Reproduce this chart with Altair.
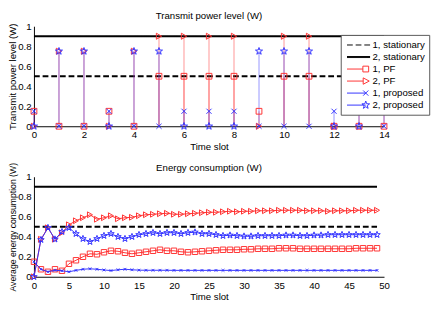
import math
import altair as alt
import pandas as pd

# ---------------- data ----------------
series_names = ["1, stationary", "2, stationary", "1, PF", "2, PF", "1, proposed", "2, proposed"]
stationary_names = ["1, stationary", "2, stationary"]
stationary_levels = [0.5, 0.9]

# top panel: transmit power level per time slot
slots = list(range(15))
power_pf1 = [0.15, 0, 0, 0.15, 0, 0.5, 0.5, 0.5, 0.5, 0.15, 0.5, 0.5, 0, 0, 0]
power_pf2 = [0, 0.75, 0.75, 0, 0.75, 0.9, 0.9, 0.9, 0.9, 0, 0.9, 0.9, 0, 0.75, 0.75]
power_prop1 = [0.15, 0, 0, 0.15, 0, 0, 0.15, 0.15, 0.15, 0, 0, 0, 0.15, 0.15, 0]
power_prop2 = [0, 0.75, 0.75, 0, 0.75, 0.75, 0, 0, 0, 0.75, 0.75, 0.75, 0, 0, 0.75]

# bottom panel: average energy consumption
avg_slots = list(range(50))
avg_pf1 = [0.15, 0.075, 0.05, 0.075, 0.06, 0.13, 0.165, 0.2, 0.23, 0.225,
           0.245, 0.26, 0.255, 0.24, 0.23, 0.24, 0.25, 0.26, 0.27, 0.26,
           0.26, 0.25, 0.245, 0.25, 0.255, 0.26, 0.265, 0.27, 0.27, 0.27,
           0.275, 0.275, 0.28, 0.28, 0.28, 0.285, 0.285, 0.285, 0.28, 0.28,
           0.28, 0.28, 0.28, 0.28, 0.28, 0.28, 0.285, 0.285, 0.285, 0.285]
avg_pf2 = [0.0, 0.375, 0.49, 0.375, 0.44, 0.52, 0.56, 0.59, 0.62, 0.575,
           0.59, 0.61, 0.58, 0.59, 0.595, 0.61, 0.62, 0.625, 0.63, 0.635,
           0.625, 0.625, 0.63, 0.635, 0.64, 0.645, 0.645, 0.65, 0.655, 0.65,
           0.655, 0.655, 0.66, 0.66, 0.66, 0.665, 0.665, 0.665, 0.665, 0.66,
           0.66, 0.66, 0.655, 0.66, 0.66, 0.66, 0.665, 0.665, 0.665, 0.665]
avg_prop1 = [0.15, 0.075, 0.05, 0.065, 0.06, 0.05, 0.064, 0.075, 0.08, 0.075,
             0.068, 0.062, 0.07, 0.075, 0.07, 0.066, 0.065, 0.065, 0.065, 0.065,
             0.064, 0.064, 0.064, 0.064, 0.064, 0.064, 0.064, 0.064, 0.064, 0.064,
             0.064, 0.064, 0.064, 0.064, 0.064, 0.064, 0.064, 0.064, 0.064, 0.064,
             0.064, 0.064, 0.064, 0.064, 0.064, 0.064, 0.064, 0.064, 0.064, 0.064]
avg_prop2 = [0.0, 0.37, 0.49, 0.375, 0.45, 0.49, 0.43, 0.38, 0.35, 0.38,
             0.41, 0.43, 0.40, 0.38, 0.40, 0.42, 0.43, 0.44, 0.43, 0.44,
             0.44, 0.43, 0.44, 0.445, 0.43, 0.43, 0.42, 0.41, 0.415, 0.41,
             0.405, 0.405, 0.41, 0.41, 0.41, 0.41, 0.415, 0.415, 0.41, 0.41,
             0.415, 0.415, 0.42, 0.42, 0.42, 0.42, 0.42, 0.42, 0.42, 0.42]

# ---------------- styles ----------------
RED = "#ff3030"
BLUE = "#3030ff"
FONT = "Liberation Sans"


def star(cx, cy, R):
    pts = []
    for k in range(10):
        r = R if k % 2 == 0 else R * 0.4
        a = math.radians(-90 + 36 * k)
        pts.append((cx + r * math.cos(a), cy + r * math.sin(a)))
    return "M" + "L".join(f"{x:.3f},{y:.3f}" for x, y in pts) + "Z"


def xmark(cx, h):
    return f"M{cx-h:.3f},{-h:.3f}L{cx+h:.3f},{h:.3f}M{cx-h:.3f},{h:.3f}L{cx+h:.3f},{-h:.3f}"


def square(cx, h):
    return f"M{cx-h:.3f},{-h:.3f}L{cx+h:.3f},{-h:.3f}L{cx+h:.3f},{h:.3f}L{cx-h:.3f},{h:.3f}Z"


def tri(cx, h):
    return f"M{cx-h*0.9:.3f},{-h:.3f}L{cx+h:.3f},0L{cx-h*0.9:.3f},{h:.3f}Z"


LINE = "M-2,0L2,0"
DASH = "M-2,0L-1,0M-0.5,0L0.5,0M1,0L2,0"
THICK = "M-2,-0.09L2,-0.09M-2,0.09L2,0.09"

legend_paths_top = [
    DASH, THICK,
    "M-2,0L0.75,0" + square(1.25, 0.5),
    "M-2,0L0.8,0" + tri(1.3, 0.55),
    "M-2,0L1.25,0" + xmark(1.25, 0.45),
    "M-2,0L1.25,0" + star(1.25, 0, 0.7),
]
legend_paths_bottom = [
    DASH, THICK,
    LINE + square(0, 0.5),
    LINE + tri(0, 0.55),
    LINE + xmark(0, 0.22),
    LINE + star(0, 0, 0.7),
]
legend_colors = ["black", "black", RED, RED, BLUE, BLUE]

marker_shape = {"1, PF": "square", "2, PF": "triangle-right",
                "1, proposed": "M-1,-1L1,1M-1,1L1,-1", "2, proposed": star(0, 0, 1)}
series_color = {"1, PF": RED, "2, PF": RED, "1, proposed": BLUE, "2, proposed": BLUE}


def long_table(t, cols):
    rows = []
    for name, vals in cols.items():
        for ti, v in zip(t, vals):
            rows.append({"t": ti, "value": v, "series": name})
    return pd.DataFrame(rows)


def stationary_table(t):
    rows = []
    for name, lvl in zip(stationary_names, stationary_levels):
        rows.append({"t": t[0], "value": lvl, "series": name})
        rows.append({"t": t[-1], "value": lvl, "series": name})
    return pd.DataFrame(rows)


def axes(xmax, xstep, ytitle, ytitle_size):
    x = alt.X("t:Q", title="Time slot",
              scale=alt.Scale(domain=[0, xmax], nice=False, zero=False),
              axis=alt.Axis(values=list(range(0, xmax + 1, xstep)), format="d",
                            labelFlush=False, labelPadding=4, titlePadding=2))
    y = alt.Y("value:Q", title=ytitle,
              scale=alt.Scale(domain=[0, 1], nice=False),
              axis=alt.Axis(values=[0, 0.2, 0.4, 0.6, 0.8, 1], format=".1~f",
                            labelPadding=3, titlePadding=0, titleFontSize=ytitle_size))
    return x, y


def legend_layer(paths, ly):
    leg = alt.Legend(title=None, orient="none", legendX=319, legendY=ly, padding=4,
                     fillColor="white", strokeColor="#555555", symbolSize=144,
                     symbolStrokeWidth=1, symbolOffset=8, labelOffset=8,
                     labelFontSize=10, labelFont=FONT, labelColor="black", rowPadding=0.5)
    return alt.Chart(pd.DataFrame({"series": series_names})).mark_point(
        filled=False, opacity=1, strokeWidth=1
    ).encode(
        color=alt.Color("series:N", scale=alt.Scale(domain=series_names, range=legend_colors), legend=leg),
        shape=alt.Shape("series:N", scale=alt.Scale(domain=series_names, range=paths), legend=leg),
    ).transform_filter("false")


def stationary_layer(t, x, y):
    return alt.Chart(stationary_table(t)).mark_line(color="black", strokeWidth=2).encode(
        x=x, y=y, detail="series:N",
        strokeDash=alt.StrokeDash("series:N", scale=alt.Scale(domain=stationary_names, range=[[6, 3], [1, 0]]), legend=None),
    )


# ---------------- top panel ----------------
top_df = long_table(slots, {"1, PF": power_pf1, "2, PF": power_pf2,
                            "1, proposed": power_prop1, "2, proposed": power_prop2})
xt, yt = axes(14, 2, "Transmit power level (W)", 10)
top_layers = [stationary_layer(slots, xt, yt)]
for name in ["1, PF", "2, PF", "1, proposed", "2, proposed"]:
    top_layers.append(
        alt.Chart(top_df).transform_filter(alt.datum.series == name)
        .mark_rule(color=series_color[name], opacity=0.35, strokeWidth=1.5)
        .encode(x=xt, y=yt, y2=alt.datum(0))
    )
top_sizes = {"1, PF": 36, "2, PF": 40, "1, proposed": 28, "2, proposed": 60}
for name in ["1, PF", "2, PF", "1, proposed", "2, proposed"]:
    top_layers.append(
        alt.Chart(top_df).transform_filter(alt.datum.series == name)
        .mark_point(shape=marker_shape[name], filled=False, color=series_color[name],
                    size=top_sizes[name], strokeWidth=1, opacity=1)
        .encode(x=xt, y=yt)
    )
top_layers.append(legend_layer(legend_paths_top, 9))
top = alt.layer(*top_layers).properties(
    width=364, height=104,
    title=alt.TitleParams("Transmit power level (W)", offset=0.5))

# ---------------- bottom panel ----------------
bot_df = long_table(avg_slots, {"1, PF": avg_pf1, "2, PF": avg_pf2,
                                "1, proposed": avg_prop1, "2, proposed": avg_prop2})
xb, yb = axes(50, 5, "Average energy consumption (W)", 9)
bot_layers = [stationary_layer(avg_slots, xb, yb)]
bot_sizes = {"1, PF": 32, "2, PF": 36, "1, proposed": 8, "2, proposed": 50}
for name in ["1, PF", "2, PF", "1, proposed", "2, proposed"]:
    base = alt.Chart(bot_df).transform_filter(alt.datum.series == name)
    bot_layers.append(base.mark_line(color=series_color[name], strokeWidth=1).encode(x=xb, y=yb))
    bot_layers.append(
        base.mark_point(shape=marker_shape[name], filled=False, color=series_color[name],
                        size=bot_sizes[name], strokeWidth=1, opacity=1).encode(x=xb, y=yb)
    )
bot_layers.append(legend_layer(legend_paths_bottom, 6))
bottom = alt.layer(*bot_layers).properties(
    width=364, height=104,
    title=alt.TitleParams("Energy consumption (W)", offset=-11))

chart = alt.vconcat(top, bottom, spacing=11.5).properties(
    padding={"left": 0, "top": -3, "right": 5, "bottom": 0}
).configure(font=FONT).configure_view(stroke=None).configure_axis(
    grid=False, ticks=False, domainColor="black", domainWidth=1,
    labelColor="black", titleColor="black", labelFontSize=10, titleFontSize=10,
    titleFontWeight="normal", labelFont=FONT, titleFont=FONT
).configure_title(fontSize=10, fontWeight="normal", color="black", font=FONT)

chart.save("out.html", embed_options={"renderer": "svg", "actions": False})
